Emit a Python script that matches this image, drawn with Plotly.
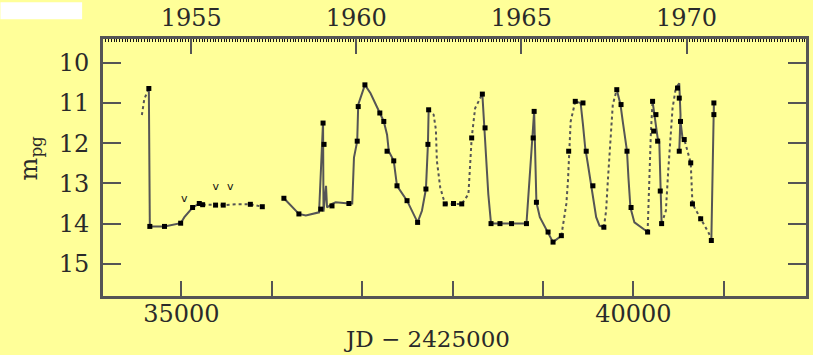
import plotly.graph_objects as go

# ---- data (JD offset as plotted, photographic magnitude) ----
solid_jd_1 = [34640, 34651, 34813, 34992, 35033, 35124, 35198, 35235]
solid_mag_1 = [10.64, 14.07, 14.07, 13.99, 13.84, 13.60, 13.50, 13.53]

dash_jd_1 = [34563, 34590, 34640]
dash_mag_1 = [11.30, 10.90, 10.64]
dash_jd_2 = [35235, 35378, 35463, 35609, 35763, 35895]
dash_mag_2 = [13.53, 13.54, 13.54, 13.52, 13.52, 13.58]

solid_jd_2 = [36134, 36300, 36377, 36523, 36567, 36572, 36600, 36611, 36666, 36707, 36853, 36890,
              36909, 36945, 36956, 37030, 37092, 37195, 37239, 37275, 37294, 37349, 37385, 37496,
              37551, 37613, 37661, 37705, 37727, 37735]
solid_mag_2 = [13.37, 13.76, 13.80, 13.72, 11.46, 13.70, 13.06, 13.60, 13.51, 13.47, 13.50, 13.50,
               12.36, 11.95, 11.04, 10.55, 10.76, 11.25, 11.46, 11.79, 12.20, 12.44, 13.06, 13.43,
               13.68, 13.97, 13.68, 13.14, 12.03, 11.17]

dash_jd_3 = [37735, 37790, 37815, 37826, 37863, 37900, 37936, 38029, 38101, 38175, 38194, 38211, 38249, 38329]
dash_mag_3 = [11.17, 11.29, 11.66, 12.44, 13.10, 13.39, 13.51, 13.50, 13.51, 13.27, 12.60, 11.87, 11.13, 10.78]

solid_jd_3 = [38329, 38359, 38395, 38425, 38505, 38652, 38817, 38828, 38855, 38872, 38902, 38910,
              38916, 38927, 38965, 39056, 39111, 39203]
solid_mag_3 = [10.78, 11.87, 13.27, 14.00, 14.00, 14.00, 14.00, 13.64, 12.86, 12.20, 11.21, 11.87,
               12.94, 13.47, 13.84, 14.21, 14.46, 14.30]

dash_jd_4 = [39203, 39258, 39276, 39287, 39306, 39357]
dash_mag_4 = [14.30, 13.51, 12.94, 12.20, 11.46, 10.96]

solid_jd_4 = [39357, 39416, 39442, 39467, 39497, 39533, 39563, 39588, 39625, 39673]
solid_mag_4 = [10.96, 11.00, 11.54, 12.12, 12.53, 13.02, 13.43, 13.84, 14.05, 14.09]

dash_jd_5 = [39673, 39698, 39717, 39736, 39754, 39772, 39816]
dash_mag_5 = [14.09, 13.68, 12.94, 12.28, 11.62, 11.04, 10.67]

solid_jd_5 = [39816, 39857, 39882, 39929, 39945, 39967, 40011, 40157]
solid_mag_5 = [10.67, 11.04, 11.46, 12.20, 12.86, 13.60, 13.97, 14.21]

dash_jd_6 = [40157, 40176, 40194, 40212]
dash_mag_6 = [14.21, 12.69, 11.70, 10.96]

solid_jd_6 = [40212, 40231, 40268, 40286, 40297, 40312]
solid_mag_6 = [10.96, 11.29, 11.87, 11.95, 13.10, 14.00]

dash_jd_7 = [40312, 40359, 40385, 40414, 40433, 40469]
dash_mag_7 = [14.00, 13.68, 12.69, 11.87, 11.13, 10.63]

solid_jd_7 = [40469, 40507, 40521, 40507, 40521, 40543, 40568]
solid_mag_7 = [10.63, 10.51, 11.30, 12.20, 11.46, 11.87, 11.95]

dash_jd_8 = [40568, 40634, 40653, 40744, 40782, 40837, 40862]
dash_mag_8 = [11.95, 12.49, 13.51, 13.88, 14.05, 14.25, 14.42]

solid_jd_8 = [40862, 40890, 40890]
solid_mag_8 = [14.42, 11.00, 11.29]

obs_jd = [34640, 34651, 34813, 34992, 35124, 35198, 35235, 35378, 35463, 35763, 35895,
          36134, 36300, 36542, 36567, 36578, 36666, 36853, 36945, 36956, 37030, 37195, 37239,
          37275, 37349, 37385, 37496, 37613, 37705, 37727, 37735, 37918, 38010, 38101, 38211,
          38329, 38359, 38425, 38524, 38652, 38817, 38891, 38902, 38927, 39056, 39111, 39203,
          39284, 39357, 39442, 39478, 39552, 39673, 39816, 39863, 39929, 39974, 40157, 40212,
          40224, 40249, 40268, 40297, 40312, 40488, 40507, 40521, 40507, 40562, 40634, 40653,
          40744, 40862, 40890, 40890]
obs_mag = [10.64, 14.07, 14.07, 13.99, 13.60, 13.50, 13.53, 13.54, 13.54, 13.52, 13.58,
           13.37, 13.76, 13.64, 11.50, 12.03, 13.56, 13.50, 11.95, 11.09, 10.55, 11.25, 11.46,
           12.20, 12.44, 13.06, 13.43, 13.97, 13.14, 12.03, 11.17, 13.51, 13.50, 13.51, 11.87,
           10.78, 11.62, 14.00, 14.00, 14.00, 14.00, 11.87, 11.21, 13.47, 14.21, 14.46, 14.30,
           12.20, 10.96, 11.00, 12.20, 13.06, 14.09, 10.67, 11.04, 12.20, 13.60, 14.21, 10.96,
           11.70, 11.29, 11.95, 13.19, 14.00, 10.63, 10.88, 11.46, 12.20, 11.91, 12.49, 13.51,
           13.88, 14.42, 11.00, 11.29]

limit_jd = [35033, 35381, 35540]
limit_mag = [13.39, 13.10, 13.10]

jd_ticks = [35000, 36000, 37000, 38000, 39000, 40000, 41000]
jd_tick_labels = ["35000", "", "", "", "", "40000", ""]
year_ticks_jd = [35108.5, 36934.5, 38760.5, 40587.5]
year_labels = ["1955", "1960", "1965", "1970"]
mag_ticks = [10, 11, 12, 13, 14, 15]


def join(segs):
    xs, ys = [], []
    for sx, sy in segs:
        xs += list(sx) + [None]
        ys += list(sy) + [None]
    return xs, ys


solid_x, solid_y = join([(solid_jd_1, solid_mag_1), (solid_jd_2, solid_mag_2), (solid_jd_3, solid_mag_3),
                         (solid_jd_4, solid_mag_4), (solid_jd_5, solid_mag_5), (solid_jd_6, solid_mag_6),
                         (solid_jd_7, solid_mag_7), (solid_jd_8, solid_mag_8)])
dash_x, dash_y = join([(dash_jd_1, dash_mag_1), (dash_jd_2, dash_mag_2), (dash_jd_3, dash_mag_3),
                       (dash_jd_4, dash_mag_4), (dash_jd_5, dash_mag_5), (dash_jd_6, dash_mag_6),
                       (dash_jd_7, dash_mag_7), (dash_jd_8, dash_mag_8)])

BG = "#FFFF99"
AX = "#555555"
TXT = "#2a2a2a"
FONT = "DejaVu Serif"
XR = [34133, 41909]

fig = go.Figure()
fig.add_trace(go.Scatter(x=dash_x, y=dash_y, mode="lines", line=dict(color=AX, width=2, dash="3px,3px"),
                         hoverinfo="skip", showlegend=False))
fig.add_trace(go.Scatter(x=solid_x, y=solid_y, mode="lines", line=dict(color=AX, width=2),
                         hoverinfo="skip", showlegend=False))
fig.add_trace(go.Scatter(x=obs_jd, y=obs_mag, mode="markers",
                         marker=dict(color="#000000", size=5, symbol="square"), showlegend=False))
fig.add_trace(go.Scatter(x=limit_jd, y=limit_mag, mode="text", text=["v"] * len(limit_jd),
                         textfont=dict(family="DejaVu Sans", size=11, color="#111"), showlegend=False))
# carrier trace for the top (year) axis
fig.add_trace(go.Scatter(x=XR, y=[12, 12], xaxis="x2", mode="lines", line=dict(width=0),
                         hoverinfo="skip", showlegend=False))

fig.update_layout(
    width=813, height=355,
    margin=dict(l=103, r=4, t=36, b=59),
    paper_bgcolor=BG, plot_bgcolor=BG,
    font=dict(family=FONT, size=24, color=TXT),
    xaxis=dict(range=XR, showgrid=False, zeroline=False, showline=True, linecolor=AX, linewidth=3,
               ticks="inside", ticklen=15, tickwidth=2, tickcolor=AX,
               tickmode="array", tickvals=jd_ticks, ticktext=jd_tick_labels,
               tickfont=dict(family=FONT, size=24, color=TXT), ticklabelstandoff=-6, mirror=False),
    xaxis2=dict(range=XR, overlaying="x", side="top", showgrid=False, zeroline=False, showline=True,
                linecolor=AX, linewidth=3, ticks="inside", ticklen=15, tickwidth=2, tickcolor=AX,
                tickmode="array", tickvals=year_ticks_jd, ticktext=year_labels,
                tickfont=dict(family=FONT, size=24, color=TXT), ticklabelstandoff=0,
                minor=dict(ticks="inside", ticklen=3, tickwidth=1, tickcolor="#111",
                           tick0=35108.5, dtick=30.4375)),
    yaxis=dict(range=[15.8, 9.41], showgrid=False, zeroline=False, showline=True, linecolor=AX, linewidth=3,
               mirror="ticks", ticks="inside", ticklen=18, tickwidth=2, tickcolor=AX,
               tickmode="array", tickvals=mag_ticks, ticktext=[str(v) for v in mag_ticks],
               tickfont=dict(family=FONT, size=24, color=TXT), ticklabelstandoff=6),
    shapes=[dict(type="rect", xref="paper", yref="paper", x0=-0.1459, x1=-0.0297, y0=1.0772, y1=1.1429,
                 fillcolor="#FFFFFF", line=dict(width=0), layer="above")],
    annotations=[
        dict(text="JD − 2425000", xref="paper", yref="paper", x=(428 - 103) / 706, y=-(339 - 296) / 259,
             showarrow=False, xanchor="center", yanchor="middle",
             font=dict(family=FONT, size=23, color=TXT)),
        dict(text="m<sub>pg</sub>", xref="paper", yref="paper", x=-(103 - 30) / 706, y=1 - (157 - 37) / 259,
             showarrow=False, xanchor="center", yanchor="middle", textangle=-90,
             font=dict(family=FONT, size=24, color=TXT)),
    ],
)

fig.write_html("out.html")
